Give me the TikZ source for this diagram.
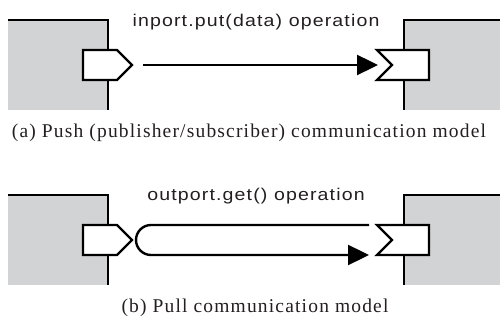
\documentclass[tikz,border=0pt]{standalone}
\usepackage{fontspec}
\setmainfont{Liberation Serif}[LetterSpace=6]
\newfontfamily\opfont{Liberation Sans}[FakeStretch=1.15, LetterSpace=6.7]
\usetikzlibrary{arrows.meta}
\definecolor{compgray}{RGB}{210,211,213}
\definecolor{ink}{RGB}{35,31,32}
\tikzset{
  x=1pt, y=-1pt,
  edge/.style={line width=2.4pt, draw=black, line join=miter},
  compbox/.style={fill=compgray, draw=none, inner sep=0pt, outer sep=0pt},
  portshape/.style={edge, fill=white},
  flow/.style={line width=2.4pt, -{Triangle[length=21pt,width=20pt]}},
  optext/.style={anchor=base, text=ink, font=\opfont\fontsize{17}{20}\selectfont, inner sep=0pt},
  captext/.style={anchor=base, text=ink, font=\fontsize{19.5}{23}\selectfont, inner sep=0pt},
}
\begin{document}
\begin{tikzpicture}
\useasboundingbox (0,0) rectangle (500,320);

% ---------- (a) push model ----------
\node[compbox, minimum width=100pt, minimum height=90pt, anchor=north west] (srcA) at (8,20) {};
\node[compbox, minimum width=96pt, minimum height=90pt, anchor=north west] (dstA) at (404,20) {};
\draw[edge] (srcA.north west) -- (srcA.north east) -- (srcA.south east);
\draw[edge] (dstA.north east) -- (dstA.north west) -- (dstA.south west);
% output port (pentagon) and input port (notched)
\draw[portshape] (83,50) -- (117,50) -- (132,65) -- (117,80) -- (83,80) -- cycle;
\coordinate (outA) at (132,65);
\draw[portshape] (377,50) -- (429,50) -- (429,80) -- (377,80) -- (392,65) -- cycle;
\coordinate (inA) at (377,65);
\draw[flow] ([xshift=11pt]outA) -- ([xshift=1pt]inA);
\node[optext] (opA) at (256,26.5) {inport.put(data) operation};
\node[captext] (capA) at (249,137.5) {(a) Push (publisher/subscriber) communication model};

% ---------- (b) pull model ----------
\node[compbox, minimum width=100pt, minimum height=90pt, anchor=north west] (srcB) at (8,195) {};
\node[compbox, minimum width=96pt, minimum height=90pt, anchor=north west] (dstB) at (404,195) {};
\draw[edge] (srcB.north west) -- (srcB.north east) -- (srcB.south east);
\draw[edge] (dstB.north east) -- (dstB.north west) -- (dstB.south west);
\draw[portshape] (83,225) -- (117,225) -- (132,240) -- (117,255) -- (83,255) -- cycle;
\coordinate (outB) at (132,240);
\draw[portshape] (377,225) -- (429,225) -- (429,255) -- (377,255) -- (392,240) -- cycle;
\coordinate (inB) at (377,240);
% request/reply tube: out along the top, back with the reply along the bottom
\draw[flow] ([xshift=-8pt,yshift=15pt]inB) -- ([xshift=19pt,yshift=15pt]outB)
  arc[start angle=270, end angle=90, radius=15] -- ([xshift=-8pt,yshift=-15pt]inB);
\node[optext] (opB) at (256,201) {outport.get() operation};
\node[captext] (capB) at (255,312.5) {(b) Pull communication model};
\end{tikzpicture}
\end{document}
